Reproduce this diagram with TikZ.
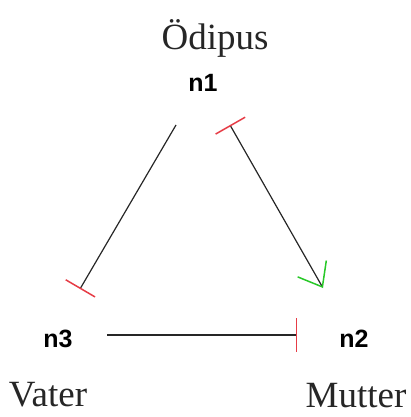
\documentclass[tikz,border=0pt]{standalone}
\usepackage{fontspec}
\setmainfont{Liberation Serif}
\newfontfamily\nfont{Liberation Sans}
\usetikzlibrary{arrows.meta}
\definecolor{barred}{RGB}{230,60,70}
\definecolor{vgreen}{RGB}{40,200,40}
\begin{document}
\begin{tikzpicture}[x=1pt,y=-1pt,
  idtext/.style={font=\nfont\bfseries\fontsize{25}{27}\selectfont, inner sep=0pt, anchor=base},
  persname/.style={font=\fontsize{37}{40}\selectfont, text=black!85, inner sep=0pt, anchor=base},
  link/.style={line width=1.2pt, black!85},
  redbar/.style={-{Bar[color=barred, width=34pt, line width=1.5pt]}},
  barstart/.style={{Bar[color=barred, width=34pt, line width=1.5pt]}-{Straight Barb[color=vgreen, length=21pt, width=33pt, line width=1.5pt]}}
]
\useasboundingbox (0,0) rectangle (411,417);
% labels
\node[persname] (oed) at (215,50) {Ödipus};
\node[persname] (vat) at (48,406) {Vater};
\node[persname] (mut) at (356,407) {Mutter};
\node[idtext] (n1) at (203,92) {n1};
\node[idtext] (n3) at (58,347) {n3};
\node[idtext] (n2) at (354,347) {n2};
% endpoints
\coordinate (a1) at (176,125);
\coordinate (a3) at (80,289);
\coordinate (b1) at (230,125);
\coordinate (b2) at (323,288);
\coordinate (c3) at (107,335);
\coordinate (c2) at (297,335);
% connectors
\draw[link, redbar] (a1) -- (a3);
\draw[link, barstart] (b1) -- (b2);
\draw[link, redbar] (c3) -- (c2);
\end{tikzpicture}
\end{document}
